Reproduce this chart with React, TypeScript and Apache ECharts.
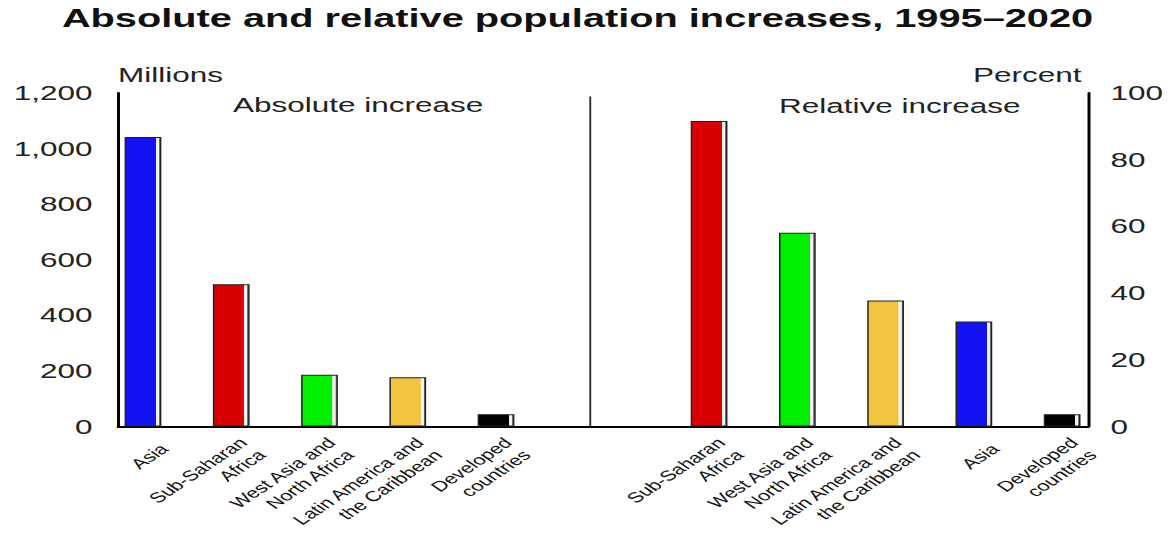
import React, { useEffect, useRef } from "react";
import * as echarts from "echarts";

const titleText = "Absolute and relative population increases, 1995–2020";
const leftUnit = "Millions";
const rightUnit = "Percent";
const leftPanel = "Absolute increase";
const rightPanel = "Relative increase";

const absCategories = [
  "Asia",
  "Sub-Saharan\nAfrica",
  "West Asia and\nNorth Africa",
  "Latin America and\nthe Caribbean",
  "Developed\ncountries",
];
const absValues = [1042, 512, 186, 177, 44];
const absColors = ["#1212f2", "#d80000", "#00ee00", "#f2c540", "#000000"];

const relCategories = [
  "Sub-Saharan\nAfrica",
  "West Asia and\nNorth Africa",
  "Latin America and\nthe Caribbean",
  "Asia",
  "Developed\ncountries",
];
const relValues = [91.6, 58.1, 37.8, 31.5, 3.7];
const relColors = ["#d80000", "#00ee00", "#f2c540", "#1212f2", "#000000"];

const FONT = "'Liberation Sans', Arial, sans-serif";

function barFill(c: string) {
  return {
    type: "linear",
    x: 0,
    y: 0,
    x2: 1,
    y2: 0,
    colorStops: [
      { offset: 0, color: c },
      { offset: 0.86, color: c },
      { offset: 0.87, color: "#f2f2f2" },
      { offset: 0.95, color: "#f2f2f2" },
      { offset: 0.96, color: "#777" },
      { offset: 1, color: "#777" },
    ],
  };
}

export default function App() {
  const ref = useRef<HTMLDivElement>(null);
  useEffect(() => {
    if (!ref.current) return;
    const chart = echarts.init(ref.current, null, { renderer: "svg" });
    const catLabel = {
      rotate: 45,
      interval: 0,
      margin: 34,
      padding: [0, -20, 0, 0],
      fontSize: 14.5,
      lineHeight: 17.5,
      color: "#111",
      fontFamily: FONT,
    };
    const H = 333.5;
    chart.setOption({
      animation: false,
      backgroundColor: "#fff",
      grid: [
        { left: 65.9, top: 93, width: 294.2, height: H, outerBoundsMode: "none", containLabel: false },
        { left: 443.3, top: 93, width: 294.2, height: H, outerBoundsMode: "none", containLabel: false },
        { left: 78.7, top: 97, width: 646.6, height: H - 4, outerBoundsMode: "none", containLabel: false },
      ],
      xAxis: [
        {
          type: "category",
          gridIndex: 0,
          data: absCategories,
          axisLine: { show: false },
          axisTick: { show: false },
          axisLabel: catLabel,
        },
        {
          type: "category",
          gridIndex: 1,
          data: relCategories,
          axisLine: { show: false },
          axisTick: { show: false },
          axisLabel: catLabel,
        },
        {
          type: "value",
          gridIndex: 2,
          min: 0,
          max: 1,
          axisLine: { show: true, onZero: false, lineStyle: { color: "#000", width: 2 } },
          axisTick: { show: false },
          axisLabel: { show: false },
          splitLine: { show: false },
        },
      ],
      yAxis: [
        {
          type: "value",
          gridIndex: 0,
          min: 0,
          max: 1200,
          interval: 200,
          offset: -12.8,
          axisLine: { show: true, onZero: false, lineStyle: { color: "#000", width: 2 } },
          axisTick: { show: false },
          splitLine: { show: false },
          axisLabel: {
            margin: 17,
            fontSize: 21,
            color: "#222",
            fontFamily: FONT,
            formatter: (v: number) => v.toLocaleString("en-US"),
          },
        },
        {
          type: "value",
          gridIndex: 1,
          position: "right",
          min: 0,
          max: 100,
          interval: 20,
          offset: -12.2,
          axisLine: { show: true, onZero: false, lineStyle: { color: "#000", width: 2 } },
          axisTick: { show: false },
          splitLine: { show: false },
          axisLabel: { margin: 15, fontSize: 21, color: "#222", fontFamily: FONT },
        },
        {
          type: "value",
          gridIndex: 2,
          min: 0,
          max: 1,
          offset: -314.6,
          axisLine: { show: true, onZero: false, lineStyle: { color: "#333", width: 1.3 } },
          axisTick: { show: false },
          axisLabel: { show: false },
          splitLine: { show: false },
        },
      ],
      series: [
        {
          type: "bar",
          xAxisIndex: 0,
          yAxisIndex: 0,
          barWidth: 24.5,
          data: absValues.map((v, i) => ({
            value: v,
            itemStyle: { color: barFill(absColors[i]), borderColor: "#222", borderWidth: 1 },
          })),
        },
        {
          type: "bar",
          xAxisIndex: 1,
          yAxisIndex: 1,
          barWidth: 24.5,
          data: relValues.map((v, i) => ({
            value: v,
            itemStyle: { color: barFill(relColors[i]), borderColor: "#222", borderWidth: 1 },
          })),
        },
      ],
      graphic: [
        {
          type: "text",
          x: 385,
          y: 18,
          style: {
            text: titleText,
            fontSize: 26.5,
            fontWeight: "bold",
            fontFamily: FONT,
            fill: "#111",
            align: "center",
            verticalAlign: "middle",
          },
        },
        {
          type: "text",
          x: 78.7,
          y: 75,
          style: { text: leftUnit, fontSize: 21, fontFamily: FONT, fill: "#222", align: "left", verticalAlign: "middle" },
        },
        {
          type: "text",
          x: 721,
          y: 75,
          style: { text: rightUnit, fontSize: 21, fontFamily: FONT, fill: "#222", align: "right", verticalAlign: "middle" },
        },
        {
          type: "text",
          x: 155.3,
          y: 105,
          style: { text: leftPanel, fontSize: 21, fontFamily: FONT, fill: "#222", align: "left", verticalAlign: "middle" },
        },
        {
          type: "text",
          x: 519.3,
          y: 106,
          style: { text: rightPanel, fontSize: 21, fontFamily: FONT, fill: "#222", align: "left", verticalAlign: "middle" },
        },
      ],
    });
    return () => chart.dispose();
  }, []);
  return (
    <div
      ref={ref}
      style={{
        position: "absolute",
        left: 0,
        top: 0,
        width: 780,
        height: 535,
        transform: "scaleX(1.5)",
        transformOrigin: "0 0",
      }}
    />
  );
}
